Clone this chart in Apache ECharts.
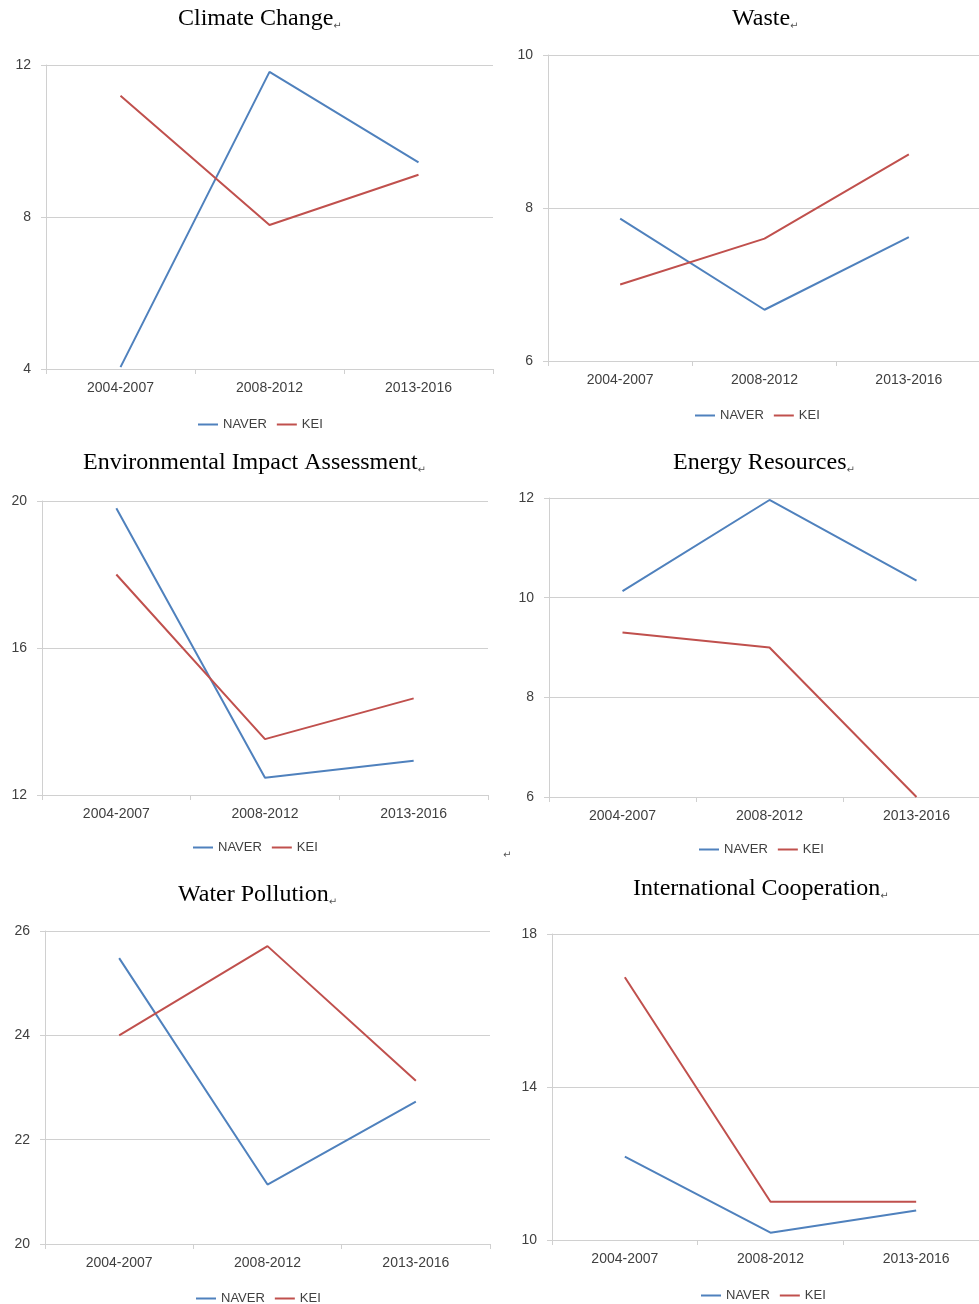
<!DOCTYPE html>
<html>
<head>
<meta charset="utf-8">
<script src="https://cdn.jsdelivr.net/npm/echarts@6/dist/echarts.min.js"></script>
<style>
  html, body { margin: 0; padding: 0; background: #fff; }
  #main { width: 979px; height: 1304px; }
</style>
</head>
<body>
<div id="main"></div>
<script>
// 六个小折线图（2004-2016 三个时期）
const chart = echarts.init(document.getElementById('main'));

const periods = ['2004-2007', '2008-2012', '2013-2016'];
const seriesNames = ['NAVER', 'KEI'];

const titles = [
  'Climate Change',
  'Waste',
  'Environmental Impact Assessment',
  'Energy Resources',
  'Water Pollution',
  'International Cooperation'
];

const climateNaver = [4.05, 11.82, 9.44];
const climateKei = [11.19, 7.79, 9.11];
const wasteNaver = [7.86, 6.67, 7.62];
const wasteKei = [7.0, 7.6, 8.7];
const eiaNaver = [19.8, 12.47, 12.93];
const eiaKei = [18.0, 13.52, 14.63];
const energyNaver = [10.13, 11.96, 10.34];
const energyKei = [9.3, 9.0, 6.0];
const waterNaver = [25.48, 21.14, 22.73];
const waterKei = [24.0, 25.71, 23.13];
const coopNaver = [12.18, 10.19, 10.77];
const coopKei = [16.87, 11.0, 11.0];

// y 轴范围: [min, max, interval]
const yRanges = [
  [4, 12, 4],
  [6, 10, 2],
  [12, 20, 4],
  [6, 12, 2],
  [20, 26, 2],
  [10, 18, 4]
];

const panelData = [
  [climateNaver, climateKei],
  [wasteNaver, wasteKei],
  [eiaNaver, eiaKei],
  [energyNaver, energyKei],
  [waterNaver, waterKei],
  [coopNaver, coopKei]
];

// 布局（像素），右侧两图超出画布
const grids = [
  { left: 46, top: 65, width: 447, height: 304 },
  { left: 548, top: 55, width: 433, height: 306 },
  { left: 42, top: 501, width: 446, height: 294 },
  { left: 549, top: 498, width: 441, height: 299 },
  { left: 45, top: 931, width: 445, height: 313 },
  { left: 552, top: 934, width: 437, height: 306 }
].map(g => Object.assign({ outerBoundsMode: 'none', containLabel: false }, g));

const titlePos = [
  [178, 7], [732, 7], [83, 451], [673, 451], [178, 883], [633, 877]
];
const legendPos = [
  [198, 418], [695, 409], [193, 841], [699, 843], [196, 1292], [701, 1289]
];

const colors = ['#4F81BD', '#C0504D'];
const gridColor = '#D0D0D0';
const labelColor = '#404040';

const option = {
  animation: false,
  backgroundColor: '#fff',
  color: colors,
  title: titles.map((t, i) => ({
    text: '{t|' + t + '}{r|↵}',
    left: titlePos[i][0],
    top: titlePos[i][1],
    padding: 0,
    textStyle: {
      fontWeight: 'normal',
      rich: {
        t: {
          fontFamily: 'Liberation Serif',
          fontSize: 24,
          fontWeight: 'normal',
          color: '#000'
        },
        r: {
          fontFamily: 'DejaVu Sans',
          fontSize: 10,
          fontWeight: 'normal',
          color: '#555',
          verticalAlign: 'bottom'
        }
      }
    }
  })),
  legend: legendPos.map(p => ({
    data: seriesNames,
    left: p[0],
    top: p[1],
    padding: 0,
    icon: 'rect',
    itemWidth: 20,
    itemHeight: 2,
    itemGap: 10,
    textStyle: {
      fontFamily: 'Liberation Sans',
      fontSize: 13,
      color: labelColor
    }
  })),
  grid: grids,
  xAxis: grids.map((g, i) => ({
    type: 'category',
    gridIndex: i,
    data: periods,
    axisLine: { lineStyle: { color: gridColor, width: 1 } },
    axisTick: { show: true, length: 5, lineStyle: { color: gridColor } },
    axisLabel: {
      margin: 12,
      fontFamily: 'Liberation Sans',
      fontSize: 14,
      color: labelColor
    },
    splitLine: { show: false }
  })),
  yAxis: yRanges.map((r, i) => ({
    type: 'value',
    gridIndex: i,
    min: r[0],
    max: r[1],
    interval: r[2],
    axisLine: { show: true, lineStyle: { color: gridColor, width: 1 } },
    axisTick: { show: true, length: 5, lineStyle: { color: gridColor } },
    axisLabel: {
      margin: 15,
      fontFamily: 'Liberation Sans',
      fontSize: 14,
      color: labelColor
    },
    splitLine: { show: true, lineStyle: { color: gridColor, width: 1 } }
  })),
  series: [],
  graphic: [
    {
      type: 'text',
      left: 503,
      top: 850,
      style: { text: '↵', fontFamily: 'DejaVu Sans', fontSize: 10, fill: '#555' }
    }
  ]
};

panelData.forEach((pair, i) => {
  pair.forEach((values, k) => {
    option.series.push({
      type: 'line',
      name: seriesNames[k],
      xAxisIndex: i,
      yAxisIndex: i,
      data: values,
      symbol: 'none',
      lineStyle: { width: 2, color: colors[k] },
      itemStyle: { color: colors[k] }
    });
  });
});

chart.setOption(option);

window.onresize = function() {
  chart.resize();
};
</script>
</body>
</html>
